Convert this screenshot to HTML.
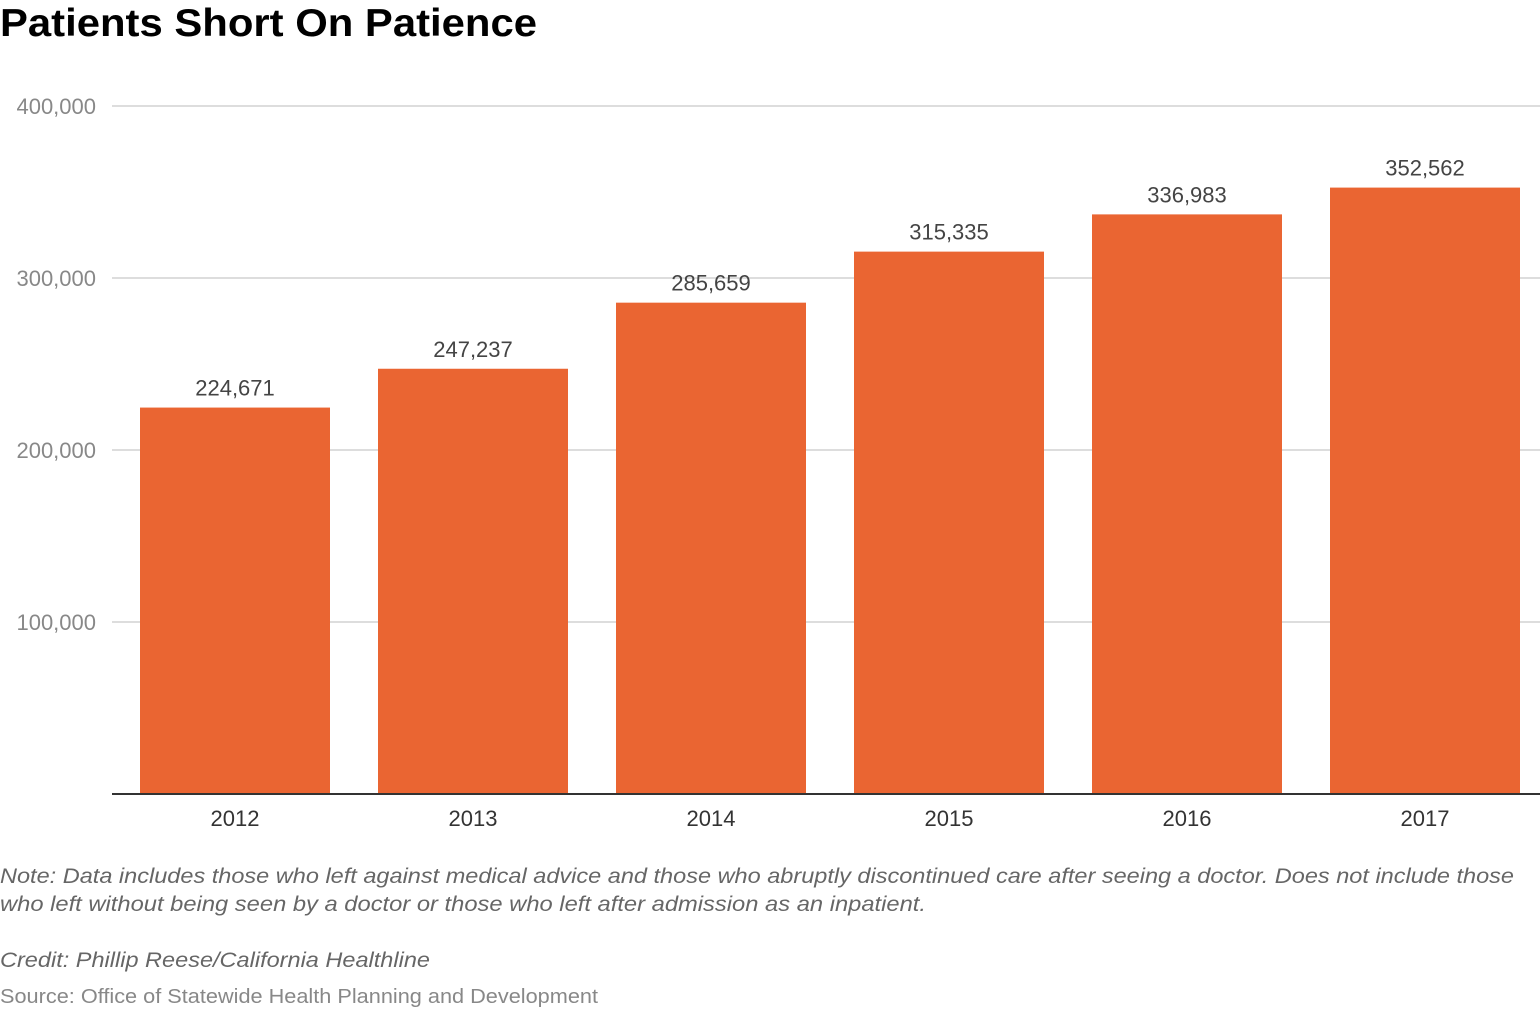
<!DOCTYPE html>
<html><head><meta charset="utf-8"><style>
html,body{margin:0;padding:0;background:#fff;}
svg{display:block;font-family:"Liberation Sans",sans-serif;}
</style></head><body>
<svg width="1540" height="1026" viewBox="0 0 1540 1026">
<text x="0" y="36" font-size="39" font-weight="bold" fill="#000" textLength="537" lengthAdjust="spacingAndGlyphs">Patients Short On Patience</text>
<g id="grid"></g>
<g id="bars"></g>
<line x1="112" x2="1540" y1="794" y2="794" stroke="#333" stroke-width="2"/>
<text x="0" y="883" font-size="21" font-style="italic" fill="#666" textLength="1514" lengthAdjust="spacingAndGlyphs">Note: Data includes those who left against medical advice and those who abruptly discontinued care after seeing a doctor. Does not include those</text>
<text x="0" y="911" font-size="21" font-style="italic" fill="#666" textLength="926" lengthAdjust="spacingAndGlyphs">who left without being seen by a doctor or those who left after admission as an inpatient.</text>
<text x="0" y="967" font-size="21" font-style="italic" fill="#666" textLength="430" lengthAdjust="spacingAndGlyphs">Credit: Phillip Reese/California Healthline</text>
<text x="0" y="1003" font-size="20" fill="#888" textLength="598" lengthAdjust="spacingAndGlyphs">Source: Office of Statewide Health Planning and Development</text>
</svg>
<script>
const categories = ["2012","2013","2014","2015","2016","2017"];
const values = [224671,247237,285659,315335,336983,352562];
const yTicks = [100000,200000,300000,400000];
const yTickLabels = ["100,000","200,000","300,000","400,000"];

const NS = "http://www.w3.org/2000/svg";
function y(v){ return 794 - v * 688 / 400000; }
function xLeft(i){ return 140 + i * 238; }
const barW = 190;
function fmt(v){ return v.toLocaleString("en-US"); }

const grid = document.getElementById("grid");
yTicks.forEach((t,i)=>{
  const l = document.createElementNS(NS,"line");
  l.setAttribute("x1",112); l.setAttribute("x2",1540);
  l.setAttribute("y1",y(t)); l.setAttribute("y2",y(t));
  l.setAttribute("stroke","#ddd"); l.setAttribute("stroke-width","2");
  
  
  grid.appendChild(l);
  const tx = document.createElementNS(NS,"text");
  tx.setAttribute("x",96); tx.setAttribute("y",y(t)+8);
  tx.setAttribute("text-anchor","end"); tx.setAttribute("font-size","22");
  tx.setAttribute("fill","#888");
  tx.textContent = yTickLabels[i];
  
  
  grid.appendChild(tx);
});

const bars = document.getElementById("bars");
categories.forEach((c,i)=>{
  const r = document.createElementNS(NS,"rect");
  r.setAttribute("x",xLeft(i)); r.setAttribute("width",barW);
  r.setAttribute("y",y(values[i])); r.setAttribute("height",794-y(values[i]));
  r.setAttribute("fill","#ea6532");
  
  
  bars.appendChild(r);
  const v = document.createElementNS(NS,"text");
  v.setAttribute("x",xLeft(i)+barW/2); v.setAttribute("y",y(values[i])-12);
  v.setAttribute("text-anchor","middle"); v.setAttribute("font-size","22");
  v.setAttribute("fill","#444");
  v.textContent = fmt(values[i]);
  
  
  bars.appendChild(v);
  const xl = document.createElementNS(NS,"text");
  xl.setAttribute("x",xLeft(i)+barW/2); xl.setAttribute("y",826);
  xl.setAttribute("text-anchor","middle"); xl.setAttribute("font-size","22");
  xl.setAttribute("fill","#333");
  xl.textContent = c;
  
  
  bars.appendChild(xl);
});
</script>
</body></html>
